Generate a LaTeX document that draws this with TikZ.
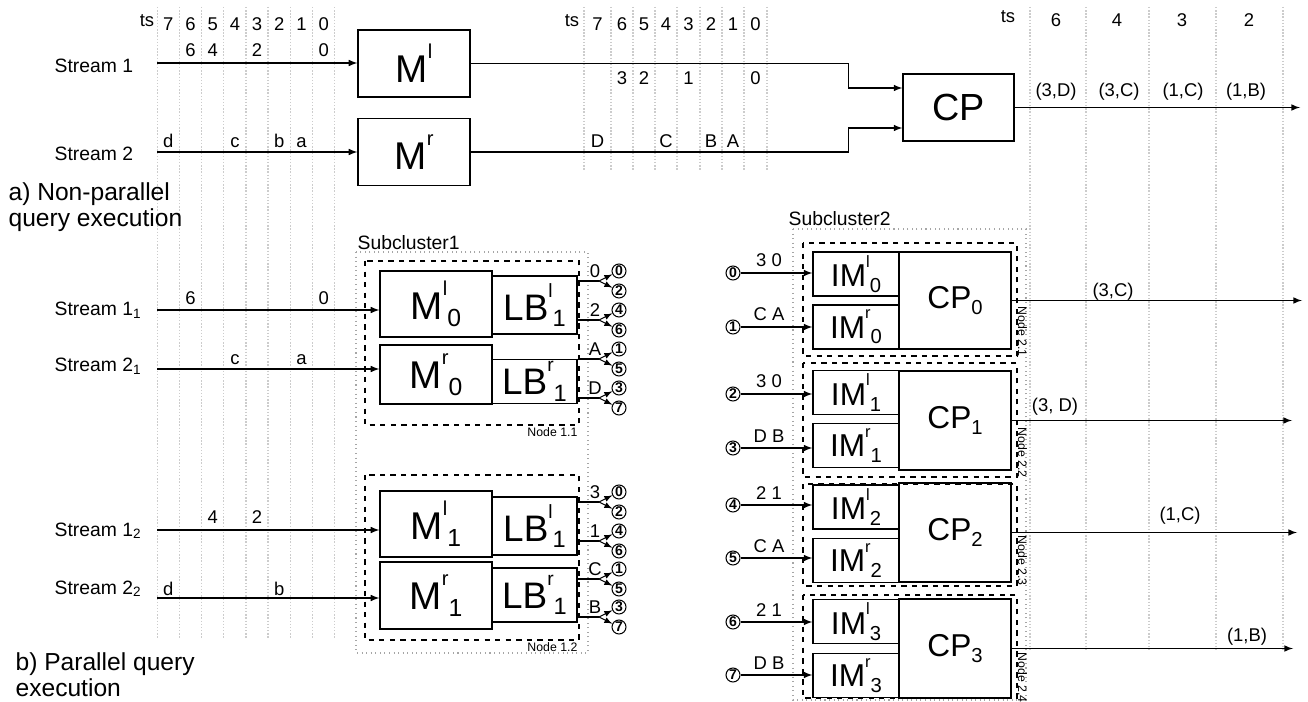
\documentclass[tikz,border=0pt]{standalone}
\usepackage{fontspec}
\setmainfont{Liberation Sans}
\usepackage{graphicx}
\usetikzlibrary{arrows,calc}

\newcommand{\sps}[1]{\raisebox{0.62em}{\scalebox{0.52}{#1}}}
\newcommand{\sbs}[1]{\raisebox{-0.18em}{\scalebox{0.64}{#1}}}
\newcommand{\fs}[1]{\fontsize{#1}{#1}\selectfont}

\tikzset{
  tsline/.style={gray!40, densely dotted, line width=0.8pt},
  val/.style={font=\fs{10.5}, inner sep=0pt, anchor=base},
  lbl/.style={font=\fs{11}, inner sep=0pt, anchor=base west},
  blk/.style={draw, inner sep=0pt, line width=0.75pt},
  mbox/.style={blk, minimum width=2.24cm, font=\fs{22}},
  lbbox/.style={blk, minimum width=1.7cm, font=\fs{21}},
  imbox/.style={blk, minimum width=1.72cm, minimum height=0.88cm, font=\fs{18}},
  cpbox/.style={blk, minimum width=2.24cm, font=\fs{18}},
  cnum/.style={draw, circle, inner sep=0pt, minimum size=0.28cm, line width=0.6pt, font=\fs{8}\bfseries},
  nodebox/.style={dashed, line width=0.7pt},
  subbox/.style={gray!70, dotted, line width=0.6pt},
  nodelbl/.style={font=\fs{7}, inner sep=0pt},
  tip/.style={->, >=latex},
}

\begin{document}
\begin{tikzpicture}[x=0.02cm, y=-0.02cm, line width=0.7pt]
\useasboundingbox (0,0) rectangle (1308,702);

% time slots
\foreach \x in {157.3,179.5,201.5,223.7,245.9,268.1,290.3,312.5,334.7}
  \draw[tsline] (\x,7) -- (\x,638);
\foreach \x in {584,611,633,655,677,700,722,744,767}
  \draw[tsline] (\x,7) -- (\x,171);
\foreach \x in {1030,1086,1149,1216,1283}
  \draw[tsline] (\x,7) -- (\x,652);

\node[val] (ts1) at (147,27) {ts};
\node[val] (ts2) at (572,27) {ts};
\node[val] (ts3) at (1008,23) {ts};
\foreach \x/\tv in {168.3/7,190.5/6,212.7/5,234.9/4,257.1/3,279.3/2,301.5/1,323.7/0}
  \node[val] at (\x,31) {\tv};
\foreach \x/\tv in {597.5/7,622/6,644/5,666/4,688.5/3,711/2,733/1,755.5/0}
  \node[val] at (\x,31) {\tv};
\foreach \x/\tv in {1056/6,1117/4,1182/3,1249/2}
  \node[val] at (\x,27) {\tv};

% a) non-parallel
\node[lbl] (st1) at (54,73) {Stream 1};
\node[lbl] (st2) at (54,161) {Stream 2};
\coordinate (s1) at (157.3,63);
\coordinate (s2) at (157.3,152);

\node[mbox, minimum height=1.34cm] (Ml) at (414,63.5) {M\sps{l}};
\node[mbox, minimum height=1.34cm] (Mr) at (414,152) {M\sps{r}};
\node[blk, minimum width=2.22cm, minimum height=1.34cm, font=\fs{21.5}] (CP) at (958.5,107.5) {CP};

\draw[tip] (s1) -- (s1 -| Ml.west);
\draw[tip] (s2) -- (s2 -| Mr.west);
\draw[tip] (Ml.east) -- ++(378,0) |- ($(CP.west)+(0,-19.5)$);
\draw[tip] (Mr.east) -- ++(378,0) |- ($(CP.west)+(0,20.5)$);
\coordinate (cpout) at (1300,107.5);
\draw[tip] (CP.east) -- (cpout);

\foreach \x/\v in {190.5/6,212.7/4,257.1/2,323.7/0}
  \node[val] at (\x,57) {\v};
\foreach \x/\v in {168.3/d,234.9/c,279.3/b,301.5/a}
  \node[val] at (\x,148) {\v};
\foreach \x/\v in {622/3,644/2,688.5/1,755.5/0}
  \node[val] at (\x,85) {\v};
\foreach \x/\v in {597.5/D,666/C,711/B,733/A}
  \node[val] at (\x,148) {\v};
\foreach \x/\v in {1056/{(3,D)},1119/{(3,C)},1183/{(1,C)},1246/{(1,B)}}
  \node[val] at (\x,97) {\v};

\node[font=\fontsize{14}{15}\selectfont, align=left, inner sep=0pt, anchor=north west] (capa) at (8,182) {a) Non-parallel\\query execution};

% b) parallel, subcluster 1
\node[lbl] (st11) at (54,316) {Stream 1\textsubscript{1}};
\node[lbl] (st21) at (54,372) {Stream 2\textsubscript{1}};
\node[lbl] (st12) at (54,536) {Stream 1\textsubscript{2}};
\node[lbl] (st22) at (54,594) {Stream 2\textsubscript{2}};
\coordinate (s11) at (157.3,310);
\coordinate (s21) at (157.3,369);
\coordinate (s12) at (157.3,530);
\coordinate (s22) at (157.3,598);

\foreach \x/\v in {190.5/6,323.7/0} \node[val] at (\x,305) {\v};
\foreach \x/\v in {234.9/c,301.5/a} \node[val] at (\x,365) {\v};
\foreach \x/\v in {212.7/4,257.1/2} \node[val] at (\x,523) {\v};
\foreach \x/\v in {168.3/d,279.3/b} \node[val] at (\x,595) {\v};

\node[lbl] (sc1) at (357,250) {Subcluster1};
\draw[subbox] (356,252) rectangle (588,653);
\draw[nodebox] (365,261) rectangle (579,425);
\draw[nodebox] (365,475) rectangle (579,640);
\node[nodelbl, anchor=base east] (n11) at (578,437) {Node 1.1};
\node[nodelbl, anchor=base east] (n12) at (578,651) {Node 1.2};

\node[mbox, minimum height=1.32cm] (Ml0) at (436,304) {M\sps{l}\sbs{0}};
\node[lbbox, minimum height=1.16cm] (LBl0) at (534.5,305) {LB\sps{l}\sbs{1}};
\node[mbox, minimum height=1.18cm] (Mr0) at (436,374.5) {M\sps{r}\sbs{0}};
\node[lbbox, minimum height=0.88cm] (LBr0) at (534.5,381.3) {LB\sps{r}\sbs{1}};
\node[mbox, minimum height=1.32cm] (Ml1) at (436,524) {M\sps{l}\sbs{1}};
\node[lbbox, minimum height=1.16cm] (LBl1) at (534.5,526) {LB\sps{l}\sbs{1}};
\node[mbox, minimum height=1.34cm] (Mr1) at (436,595.5) {M\sps{r}\sbs{1}};
\node[lbbox, minimum height=1.08cm] (LBr1) at (534.5,595) {LB\sps{r}\sbs{1}};

\draw[tip] (s11) -- (s11 -| Ml0.west);
\draw[tip] (s21) -- (s21 -| Mr0.west);
\draw[tip] (s12) -- (s12 -| Ml1.west);
\draw[tip] (s22) -- (s22 -| Mr1.west);

% load balancer forks
\foreach \i/\src/\y/\v/\a/\b in {1/LBl0/281/0/0/2, 2/LBl0/320/2/4/6, 3/LBr0/359/A/1/5, 4/LBr0/398/D/3/7,
    5/LBl1/502/3/0/2, 6/LBl1/541/1/4/6, 7/LBr1/579/C/1/5, 8/LBr1/617/B/3/7} {
  \coordinate (fk\i) at (599,\y);
  \node[cnum] (cu\i) at (619,\y-10) {\a};
  \node[cnum] (cd\i) at (619,\y+10) {\b};
  \node[val] at (595,\y-3.5) {\v};
  \draw (fk\i -| \src.east) -- (fk\i);
  \draw[tip, line width=0.55pt] (fk\i) -- (cu\i);
  \draw[tip, line width=0.55pt] (fk\i) -- (cd\i);
}

\node[font=\fontsize{14}{15}\selectfont, align=left, inner sep=0pt, anchor=north west] (capb) at (15,652) {b) Parallel query\\execution};

% subcluster 2
\node[lbl] (sc2) at (788,226) {Subcluster2};
\draw[subbox] (793,229) rectangle (1026,700);

\foreach \i/\yl/\yr/\yc/\hc/\dt/\db in {0/274/327/300.5/1.94/243/356, 1/392.5/445.5/420.5/1.98/363/477,
    2/507/560.5/532.5/1.98/484/586, 3/621.5/675.5/648.5/1.98/595/698} {
  \node[imbox] (IMl\i) at (856,\yl) {IM\sps{l}\sbs{\i}};
  \node[imbox] (IMr\i) at (856,\yr) {IM\sps{r}\sbs{\i}};
  \node[cpbox, minimum height=\hc cm] (CP\i) at (955,\yc) {CP\sbs{\i}};
  \draw[nodebox] (803,\dt) rectangle (1017,\db);
}

\foreach \n/\y/\v/\dst in {0/273/3 0/IMl0, 1/327/C A/IMr0, 2/394/3 0/IMl1, 3/448/D B/IMr1,
    4/505/2 1/IMl2, 5/558/C A/IMr2, 6/622/2 1/IMl3, 7/675/D B/IMr3} {
  \node[cnum] (in\n) at (733,\y) {\n};
  \node[val] at (769,\y-6) {\v};
  \draw[tip] (in\n) -- (in\n -| \dst.west);
}

\foreach \i/\ex/\lx/\ly/\lv/\ny/\nl in {0/1302/1113/297/{(3,C)}/306/2.1, 1/1292/1055/412/{(3, D)}/427/2.2,
    2/1297/1180/520/{(1,C)}/535/2.3, 3/1293/1247/641/{(1,B)}/652/2.4} {
  \coordinate (out\i) at (\ex,0);
  \draw[tip] (CP\i.east) -- (CP\i.east -| out\i);
  \node[val] at (\lx,\ly) {\lv};
  \node[nodelbl, rotate=-90, anchor=base west] at (1018,\ny) {Node \nl};
}
\end{tikzpicture}
\end{document}
